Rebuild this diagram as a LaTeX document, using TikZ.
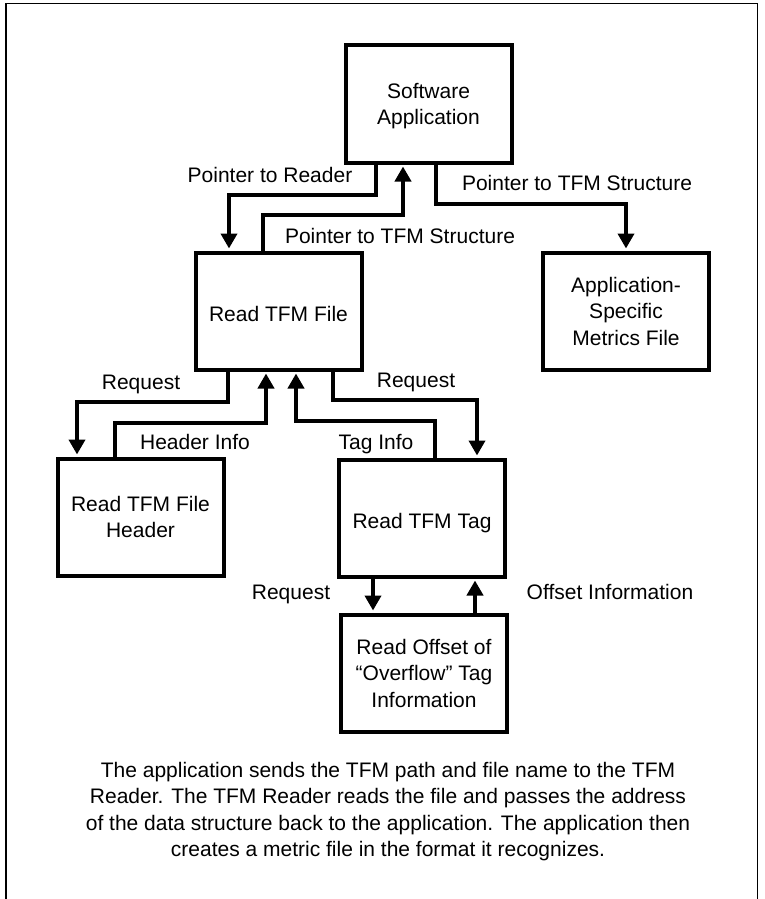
\documentclass[tikz,border=0pt]{standalone}
\usepackage{fontspec}
\setmainfont{Liberation Sans}
\usetikzlibrary{arrows.meta}
\begin{document}
\begin{tikzpicture}[x=1pt,y=-1pt,
  box/.style={draw, line width=4pt, minimum width=166pt, minimum height=117pt,
    inner sep=0pt, align=center, font=\fontsize{21}{26.5}\selectfont,
    text depth=0pt, execute at begin node={\rule{0pt}{21pt}}},
  flow/.style={line width=4.5pt, -{Triangle[length=15pt,width=16pt]}, shorten >=2pt},
  lbl/.style={anchor=base, inner sep=0pt, font=\fontsize{21}{26.5}\selectfont}]

\useasboundingbox (0,0) rectangle (764,899);

% open frame (no bottom edge)
\draw[line width=1.5pt] (6,899) -- (6,3.5) -- (757.5,3.5) -- (757.5,899);

% process boxes
\node[box] (sa)   at (428.5,104) {Software\\Application};
\node[box] (rtf)  at (278.5,311) {Read TFM File};
\node[box] (asm)  at (626,311)   {Application-\\Specific\\Metrics File};
\node[box] (rtfh) at (140.5,517) {Read TFM File\\Header};
\node[box] (rtt)  at (422,518)   {Read TFM Tag};
\node[box] (roo)  at (424,673)   {Read Offset of\\“Overflow” Tag\\Information};

% application <-> reader
\draw[flow] ([xshift=-52.5pt]sa.south) -- ++(0,30.5) -| ([xshift=-49.5pt]rtf.north);
\draw[flow] ([xshift=-15.5pt]rtf.north) -- ++(0,-35.5) -| ([xshift=-25.5pt]sa.south);
\draw[flow] ([xshift=7.5pt]sa.south) -- ++(0,39.5) -| (asm.north);

% reader <-> header / tag readers
\draw[flow] ([xshift=-50.5pt]rtf.south) -- ++(0,30.5) -| ([xshift=-63.5pt]rtfh.north);
\draw[flow] ([xshift=-25.5pt]rtfh.north) -- ++(0,-33.5) -| ([xshift=-12.5pt]rtf.south);
\draw[flow] ([xshift=13pt]rtt.north) -- ++(0,-36.5) -| ([xshift=17.5pt]rtf.south);
\draw[flow] ([xshift=54.5pt]rtf.south) -- ++(0,28.5) -| ([xshift=55pt]rtt.north);

% tag reader <-> overflow offset reader
\coordinate (rq) at ([xshift=-49pt]rtt.south);
\coordinate (of) at ([xshift=51pt]roo.north);
\draw[flow] (rq) -- (rq |- roo.north);
\draw[flow] (of) -- (of |- rtt.south);

% connector labels
\node[lbl] (l1) at (270,182.5) {Pointer to Reader};
\node[lbl] (l2) at (577,190.5) {Pointer to TFM Structure};
\node[lbl] (l3) at (400,243) {Pointer to TFM Structure};
\node[lbl] (l4) at (141,389.5) {Request};
\node[lbl] (l5) at (195,449.5) {Header Info};
\node[lbl] (l6) at (376,449.5) {Tag Info};
\node[lbl] (l7) at (416,387.5) {Request};
\node[lbl] (l8) at (291,599.5) {Request};
\node[lbl] (l9) at (610,599.5) {Offset Information};

% caption
\node[align=center, inner sep=0pt, font=\fontsize{21}{26.5}\selectfont] (note) at (388,811.5)
  {The application sends the TFM path and file name to the TFM\\
   Reader. The TFM Reader reads the file and passes the address\\
   of the data structure back to the application. The application then\\
   creates a metric file in the format it recognizes.};
\end{tikzpicture}
\end{document}
